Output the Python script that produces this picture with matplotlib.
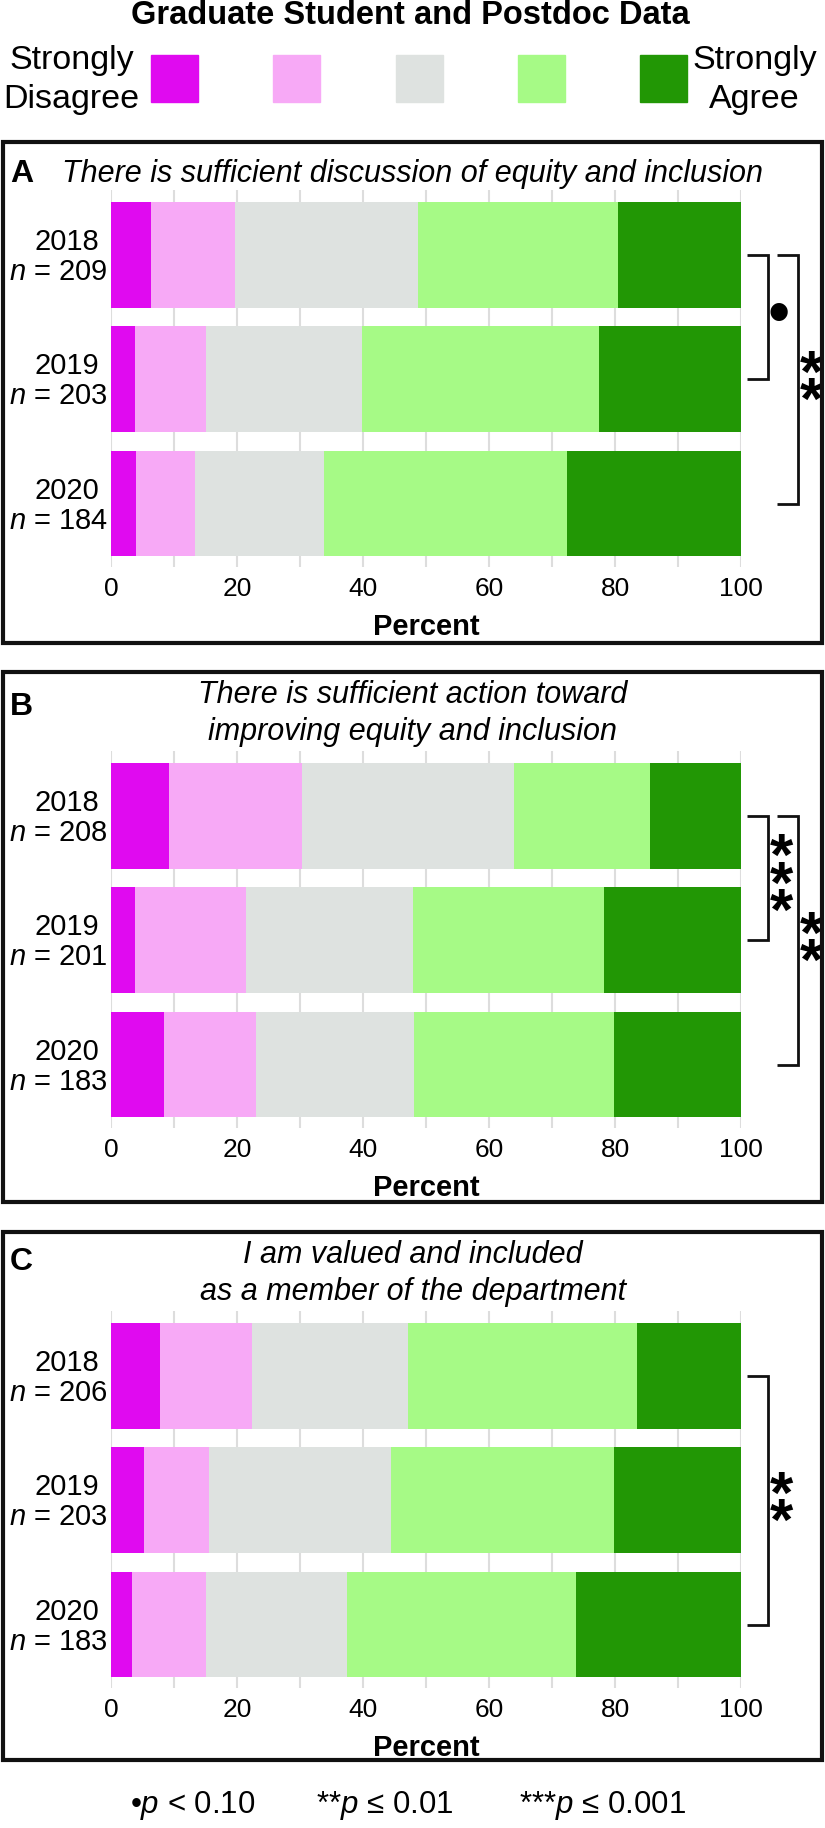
import matplotlib
matplotlib.use('Agg')
import matplotlib.pyplot as plt
from matplotlib.patches import Rectangle

plt.rcParams['font.family'] = ['Liberation Sans', 'DejaVu Sans']
plt.rcParams['mathtext.fontset'] = 'custom'
plt.rcParams['mathtext.rm'] = 'Liberation Sans'
plt.rcParams['mathtext.it'] = 'Liberation Sans:italic'
plt.rcParams['mathtext.bf'] = 'Liberation Sans:bold'

# Data (percent of responses)
years = ['2018', '2019', '2020']
categories = ['Strongly Disagree', 'Disagree', 'Neutral', 'Agree', 'Strongly Agree']
colors = ['#E00AF0', '#F7A9F6', '#DEE2E0', '#A6FA86', '#229705']

n_A = [209, 203, 184]
A_sd = [6.3, 3.8, 4.0]
A_d = [13.4, 11.2, 9.4]
A_n = [29.1, 24.8, 20.4]
A_a = [31.7, 37.6, 38.6]
A_sa = [19.5, 22.6, 27.6]

n_B = [208, 201, 183]
B_sd = [9.2, 3.8, 8.4]
B_d = [21.1, 17.7, 14.6]
B_n = [33.7, 26.5, 25.1]
B_a = [21.6, 30.2, 31.8]
B_sa = [14.4, 21.8, 20.1]

n_C = [206, 203, 183]
C_sd = [7.8, 5.2, 3.3]
C_d = [14.6, 10.3, 11.8]
C_n = [24.7, 28.9, 22.4]
C_a = [36.4, 35.5, 36.3]
C_sa = [16.5, 20.1, 26.2]

# significance brackets: (row i, row j, label, level)
sig_A = [(0, 1, '•', 0), (0, 2, '**', 1)]
sig_B = [(0, 1, '***', 0), (0, 2, '**', 1)]
sig_C = [(0, 2, '**', 0)]

titles = [['There is sufficient discussion of equity and inclusion'],
          ['There is sufficient action toward', 'improving equity and inclusion'],
          ['I am valued and included', 'as a member of the department']]
letters = ['A', 'B', 'C']

W, H = 825, 1828
fig = plt.figure(figsize=(W / 100, H / 100), dpi=100)


def fx(px):
    return px / W


def fy(py):
    return 1 - py / H


# header
fig.text(fx(410), fy(16), 'Graduate Student and Postdoc Data', ha='center', va='center',
         fontsize=23.5, fontweight='bold')
for k, c in enumerate(colors):
    cx = 174.5 + k * 122.25
    fig.add_artist(Rectangle((fx(cx - 23.5), fy(102)), 47 / W, 47 / H, color=c,
                             transform=fig.transFigure))
fig.text(fx(72), fy(69), 'Strongly', ha='center', va='baseline', fontsize=24.5)
fig.text(fx(71), fy(108), 'Disagree', ha='center', va='baseline', fontsize=24.5)
fig.text(fx(755), fy(69), 'Strongly', ha='center', va='baseline', fontsize=24.5)
fig.text(fx(754), fy(108), 'Agree', ha='center', va='baseline', fontsize=24.5)

panels = [
    dict(vals=[A_sd, A_d, A_n, A_a, A_sa], n=n_A, sig=sig_A, box=(142, 643), ax_bot=567,
         title_y=[174], letter_y=174),
    dict(vals=[B_sd, B_d, B_n, B_a, B_sa], n=n_B, sig=sig_B, box=(672, 1202), ax_bot=1128,
         title_y=[695, 732], letter_y=707),
    dict(vals=[C_sd, C_d, C_n, C_a, C_sa], n=n_C, sig=sig_C, box=(1232, 1760), ax_bot=1688,
         title_y=[1255, 1292], letter_y=1262),
]

star_size = 43
em = star_size * 100 / 72  # em in pixels
star_gap = 24  # pixels between stacked stars

for p, panel in enumerate(panels):
    top, bot = panel['box']
    fig.add_artist(Rectangle((fx(3), fy(bot)), 819 / W, (bot - top) / H, fill=False,
                             lw=3, ec='#111111', transform=fig.transFigure))
    fig.text(fx(10), fy(panel['letter_y']), letters[p], ha='left', va='center',
             fontsize=23, fontweight='bold')
    for line, ty in zip(titles[p], panel['title_y']):
        fig.text(fx(413), fy(ty), line, ha='center', va='center', fontsize=22,
                 style='italic')

    ax = fig.add_axes([fx(111), fy(panel['ax_bot']), 630 / W, 377 / H])
    ypos = list(range(len(years)))
    left = [0.0] * len(years)
    for vals, c in zip(panel['vals'], colors):
        ax.barh(ypos, vals, left=left, height=0.85, color=c, zorder=2)
        left = [l + v for l, v in zip(left, vals)]
    ax.set_xlim(0, 100)
    ax.set_ylim(2.51, -0.52)
    ax.set_xticks(range(0, 101, 20))
    ax.set_xticks(range(10, 100, 20), minor=True)
    ax.grid(True, axis='x', which='both', color='#DDDDDD', lw=1.5, zorder=0)
    ax.set_axisbelow(True)
    ax.tick_params(axis='x', which='both', length=0, pad=7, labelsize=19)
    ax.set_yticks([])
    for s in ax.spines.values():
        s.set_visible(False)
    ax.set_xlabel('Percent', fontsize=21, fontweight='bold', labelpad=9)

    for i, (yr, n) in enumerate(zip(years, panel['n'])):
        ax.annotate(yr, xy=(0, i), xycoords=('axes fraction', 'data'), xytext=(-12, 13),
                    textcoords='offset pixels', ha='right', va='center', fontsize=21)
        ax.annotate('$n$ = %d' % n, xy=(0, i), xycoords=('axes fraction', 'data'),
                    xytext=(-3, -17), textcoords='offset pixels', ha='right', va='center',
                    fontsize=21)

    for i, j, lab, level in panel['sig']:
        x0 = 100.95 + level * 4.75
        x1 = x0 + 3.35
        ax.plot([x0, x1, x1, x0], [i, i, j, j], color='#111111', lw=2, clip_on=False,
                solid_joinstyle='miter', solid_capstyle='butt')
        ym = (i + j) / 2
        if lab == '•':
            ax.annotate('•', xy=(x1, ym), xytext=(11, 0), textcoords='offset pixels',
                        ha='center', va='center', fontsize=46, annotation_clip=False)
        else:
            k = len(lab)
            # stars stacked in one column; the star glyph sits ~0.47 em above its baseline
            t = ax.annotate('\n'.join(lab), xy=(x1, ym),
                            xytext=(13, -(k - 1) / 2 * star_gap - 0.47 * em),
                            textcoords='offset pixels', ha='center', va='baseline',
                            multialignment='center', fontsize=star_size,
                            fontweight='bold', annotation_clip=False)
            t.set_linespacing(star_gap / (1.12 * em))

fig.text(fx(193), fy(1806), '•$p$ < 0.10', ha='center', va='center', fontsize=22.5)
fig.text(fx(385), fy(1806), '**$p$ ≤ 0.01', ha='center', va='center', fontsize=22.5)
fig.text(fx(603), fy(1806), '***$p$ ≤ 0.001', ha='center', va='center', fontsize=22.5)

fig.savefig('out.png', dpi=100)
